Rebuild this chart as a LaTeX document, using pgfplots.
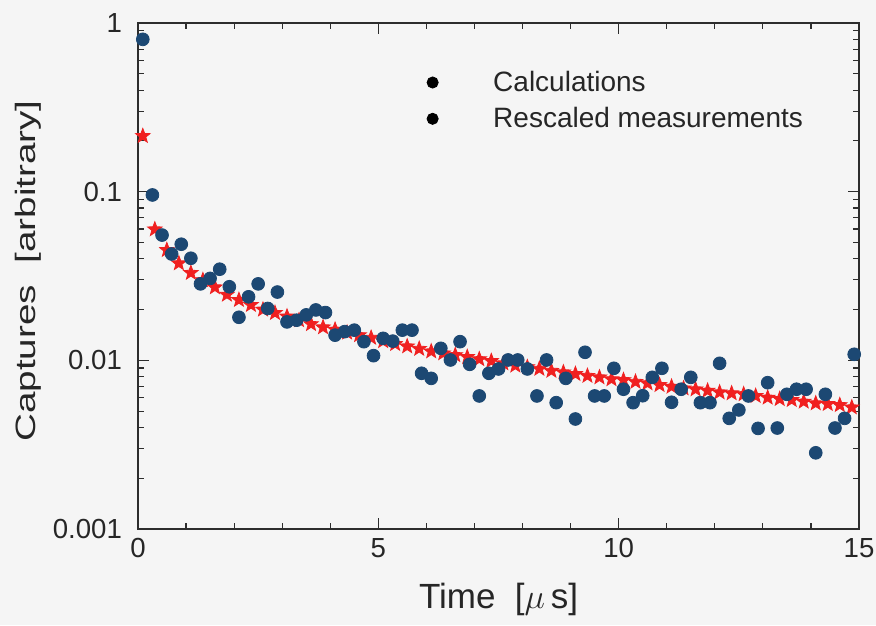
\documentclass[border=0pt]{standalone}
\usepackage{fontspec}
\setmainfont{Liberation Sans}
\usepackage{pgfplots}
\usepackage{pgfplotstable}
\pgfplotsset{compat=1.18}

\definecolor{pagebg}{RGB}{245,245,245}
\definecolor{measblue}{RGB}{28,72,115}
\definecolor{calcred}{RGB}{240,32,32}
\definecolor{axisgray}{RGB}{45,45,45}

% filled five-pointed star
\pgfdeclareplotmark{filledstar}{%
  \pgfpathmoveto{\pgfpointpolar{90}{\pgfplotmarksize}}%
  \pgfpathlineto{\pgfpointpolar{126}{0.42\pgfplotmarksize}}%
  \pgfpathlineto{\pgfpointpolar{162}{\pgfplotmarksize}}%
  \pgfpathlineto{\pgfpointpolar{198}{0.42\pgfplotmarksize}}%
  \pgfpathlineto{\pgfpointpolar{234}{\pgfplotmarksize}}%
  \pgfpathlineto{\pgfpointpolar{270}{0.42\pgfplotmarksize}}%
  \pgfpathlineto{\pgfpointpolar{306}{\pgfplotmarksize}}%
  \pgfpathlineto{\pgfpointpolar{342}{0.42\pgfplotmarksize}}%
  \pgfpathlineto{\pgfpointpolar{18}{\pgfplotmarksize}}%
  \pgfpathlineto{\pgfpointpolar{54}{0.42\pgfplotmarksize}}%
  \pgfpathclose
  \pgfusepathqfillstroke
}

% calculated captures
\pgfplotstableread{
t v
0.10 0.2138
0.35 0.0598
0.60 0.0451
0.85 0.0376
1.10 0.0330
1.35 0.0299
1.60 0.0271
1.85 0.0245
2.10 0.0228
2.35 0.0213
2.60 0.0200
2.85 0.0191
3.10 0.0182
3.35 0.0173
3.60 0.0164
3.85 0.0157
4.10 0.0152
4.35 0.0146
4.60 0.0141
4.85 0.0136
5.10 0.0130
5.35 0.0125
5.60 0.0121
5.85 0.0117
6.10 0.0113
6.35 0.0110
6.60 0.01074
6.85 0.01047
7.10 0.01016
7.35 0.00991
7.60 0.00960
7.85 0.00931
8.10 0.00912
8.35 0.00891
8.60 0.00867
8.85 0.00849
9.10 0.00830
9.35 0.00809
9.60 0.00793
9.85 0.00773
10.10 0.00764
10.35 0.00746
10.60 0.00731
10.85 0.00714
11.10 0.00698
11.35 0.00682
11.60 0.00673
11.85 0.00661
12.10 0.00646
12.35 0.00638
12.60 0.00630
12.85 0.00615
13.10 0.00601
13.35 0.00590
13.60 0.00582
13.85 0.00569
14.10 0.00556
14.35 0.00551
14.60 0.00543
14.85 0.00526
}\calcdata

% rescaled measured captures
\pgfplotstableread{
t v
0.1 0.80
0.3 0.0956
0.5 0.0553
0.7 0.0427
0.9 0.0488
1.1 0.0403
1.3 0.0284
1.5 0.0306
1.7 0.0347
1.9 0.0273
2.1 0.0180
2.3 0.0238
2.5 0.0284
2.7 0.0203
2.9 0.0254
3.1 0.0169
3.3 0.0173
3.5 0.0186
3.7 0.0199
3.9 0.0192
4.1 0.0141
4.3 0.0148
4.5 0.0151
4.7 0.0129
4.9 0.01066
5.1 0.0135
5.3 0.0130
5.5 0.0151
5.7 0.0151
5.9 0.00838
6.1 0.00782
6.3 0.01178
6.5 0.01005
6.7 0.0129
6.9 0.00947
7.1 0.00615
7.3 0.00838
7.5 0.00889
7.7 0.01005
7.9 0.01005
8.1 0.00889
8.3 0.00615
8.5 0.01005
8.7 0.00561
8.9 0.00782
9.1 0.00449
9.3 0.01116
9.5 0.00615
9.7 0.00615
9.9 0.00897
10.1 0.00674
10.3 0.00561
10.5 0.00617
10.7 0.00793
10.9 0.00897
11.1 0.00564
11.3 0.00674
11.5 0.00793
11.7 0.00561
11.9 0.00561
12.1 0.00960
12.3 0.00453
12.5 0.00508
12.7 0.00615
12.9 0.00395
13.1 0.00737
13.3 0.00397
13.5 0.00629
13.7 0.00674
13.9 0.00674
14.1 0.00283
14.3 0.00629
14.5 0.00397
14.7 0.00453
14.9 0.01086
}\measdata

\begin{document}
\begin{tikzpicture}
\fill[pagebg] (-69pt,-48pt) rectangle (369pt,264.5pt);
\begin{axis}[
  at={(0,0)}, anchor=south west,
  scale only axis,
  width=360.5pt, height=253pt,
  xmin=0, xmax=15,
  ymode=log, ymin=0.001, ymax=1,
  clip=false,
  axis line style={axisgray, line width=0.7pt},
  every tick/.style={axisgray, line width=0.6pt},
  tick align=inside,
  major tick length=5.5pt,
  minor tick length=3pt,
  xtick={0,5,10,15},
  xticklabels={\mbox{0},\mbox{5},\mbox{10},\mbox{15}},
  minor x tick num=4,
  ytick={0.001,0.01,0.1,1},
  yticklabels={\mbox{0.001},\mbox{0.01},\mbox{0.1},\mbox{1}},
  ticklabel style={font=\fontsize{13.8}{16}\selectfont, text=black!85},
  xticklabel style={yshift=-1pt},
  yticklabel style={xshift=-4.5pt},
  xlabel={Time\ \ [$\mu\,$s]},
  ylabel={\scalebox{1.38}[1]{Captures\ \ [arbitrary]}},
  label style={font=\fontsize{17.5}{20}\selectfont, text=black!85},
  xlabel style={at={(axis description cs:0.5,-0.14)}, anchor=center},
  ylabel style={at={(axis description cs:-0.1526,0.51)}, anchor=center, font=\fontsize{14}{17}\selectfont},
  legend style={draw=none, fill=none, at={(0.392,0.922)}, anchor=north west,
    font=\fontsize{14}{17}\selectfont, text=black!85, row sep=2.5pt,
    /tikz/every odd column/.append style={column sep=25.5pt}},
  legend cell align=left,
]
\addplot[only marks, mark=filledstar, mark size=3.8pt, calcred, forget plot]
  table[x=t, y=v] {\calcdata};
\addplot[only marks, mark=*, mark size=3.2pt, measblue, forget plot]
  table[x=t, y=v] {\measdata};
\addlegendimage{only marks, mark=*, mark size=2.8pt, black}
\addlegendentry{Calculations}
\addlegendimage{only marks, mark=*, mark size=2.8pt, black}
\addlegendentry{Rescaled measurements}
\end{axis}
\pgfresetboundingbox
\path (-69pt,-48pt) rectangle (369pt,264.5pt);
\end{tikzpicture}
\end{document}
